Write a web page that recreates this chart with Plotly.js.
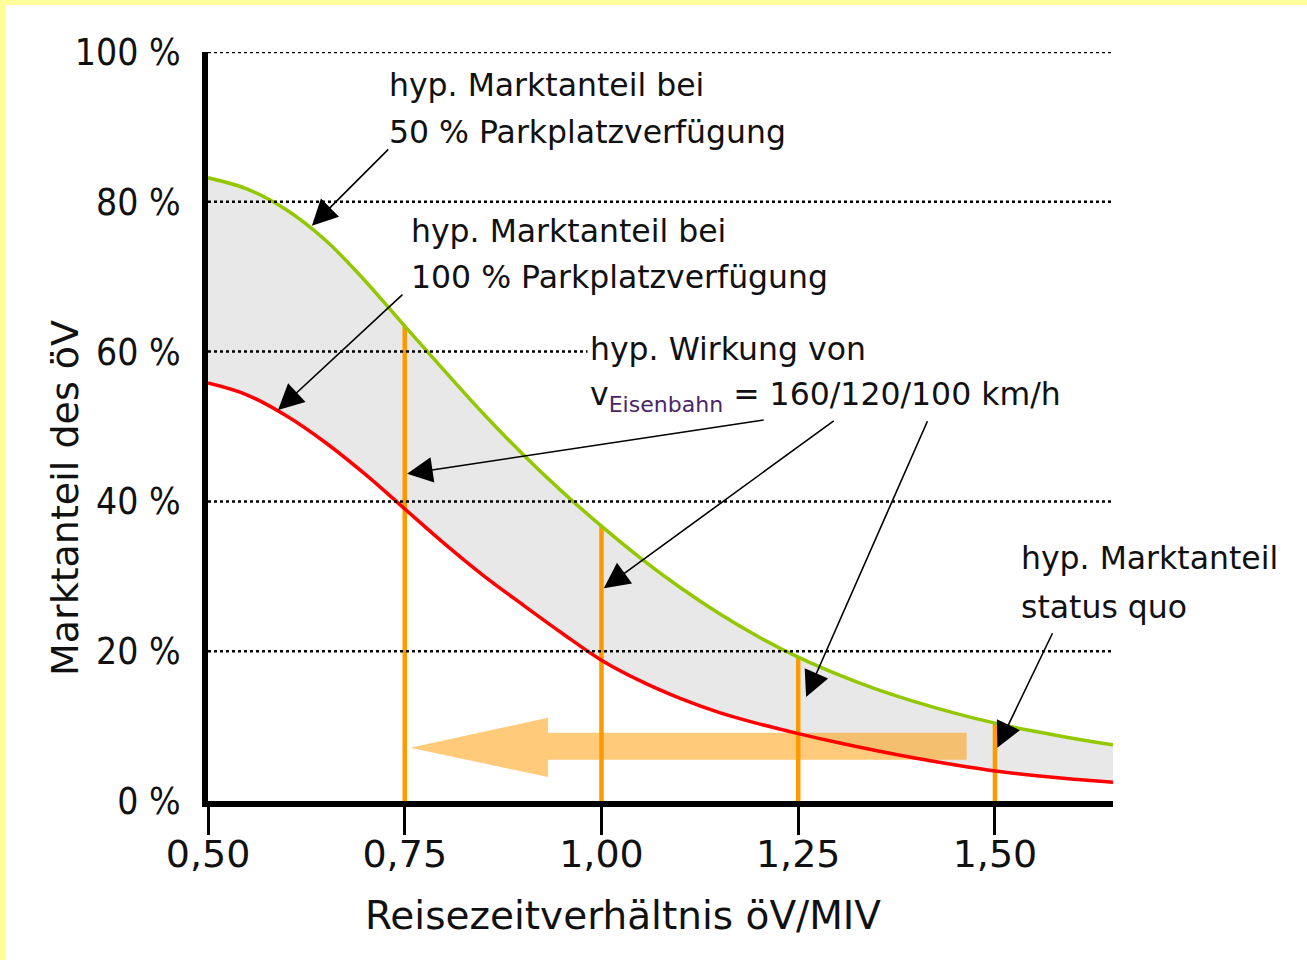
<!DOCTYPE html>
<html><head><meta charset="utf-8">
<script src="https://cdn.plot.ly/plotly-3.0.1.min.js"></script>
<style>
html,body{margin:0;padding:0;background:#FFFF99;width:1307px;height:960px;overflow:hidden}
#plot{position:absolute;left:6px;top:5px;width:1301px;height:955px;background:#fff}
</style></head><body><div id="plot"></div>
<script>
// Reisezeitverhältnis öV/MIV
const ratio     = [0.50,0.55,0.60,0.65,0.70,0.75,0.80,0.85,0.90,0.95,1.00,1.05,1.10,1.15,1.20,1.25,1.30,1.35,1.40,1.45,1.50,1.55,1.60,1.65];
// hyp. Marktanteil bei 50 % Parkplatzverfügung (green)
const share50   = [83.2,81.7,78.9,74.8,69.4,63.4,57.5,51.7,46.3,41.3,36.7,32.4,28.5,25.0,21.9,19.2,16.9,14.9,13.2,11.7,10.4,9.3,8.35,7.5];
// hyp. Marktanteil bei 100 % Parkplatzverfügung (red)
const share100  = [55.8,54.2,51.4,47.8,43.6,39.0,34.4,30.1,26.2,22.4,18.8,16.0,13.7,11.8,10.3,9.0,7.8,6.7,5.7,4.8,4.0,3.4,2.9,2.5];
// hyp. Wirkung von v = 160/120/100 km/h and status quo
const markerRatios = [0.75,1.00,1.25,1.50];
const xTickVals = [0.50,0.75,1.00,1.25,1.50];
const xTickText = ['0,50','0,75','1,00','1,25','1,50'];
const yTickVals = [0,20,40,60,80,100];
const yTickText = ['0 %','20 %','40 %','60 %','80 %','100 %'];
const gridVals  = [20,40,60,80,100];
// big translucent arrow outline
const bigArrowX = [0.757,0.932,0.932,1.464,1.464,0.932,0.932,0.757];
const bigArrowY = [7.1,11.1,9.1,9.1,5.5,5.5,3.2,7.1];

const orangeX = [], orangeY = [];
markerRatios.forEach(r => {
  const i = ratio.findIndex(v => Math.abs(v - r) < 1e-9);
  orangeX.push(r, r, null);
  orangeY.push(0, share50[i], null);
});

const GREEN = '#92C800', RED = '#FF0000', ORANGE = '#FF9900';
const annFont = {family:'DejaVu Sans, Verdana, sans-serif', size:31.5, color:'#111'};

const traces = [
  {x:ratio, y:share100, mode:'lines', line:{width:0, color:RED, shape:'spline'}, hoverinfo:'skip', showlegend:false},
  {x:ratio, y:share50, mode:'lines', line:{width:0, color:GREEN, shape:'spline'}, fill:'tonexty', fillcolor:'#E8E8E8', hoverinfo:'skip', showlegend:false},
  {x:orangeX, y:orangeY, mode:'lines', line:{width:4.5, color:ORANGE}, hoverinfo:'skip', showlegend:false},
  {x:bigArrowX, y:bigArrowY, mode:'lines', fill:'toself', fillcolor:'rgba(255,153,0,0.52)', line:{width:0}, hoverinfo:'skip', showlegend:false},
  {x:ratio, y:share100, mode:'lines', line:{width:3.5, color:RED, shape:'spline'}, hoverinfo:'skip', showlegend:false},
  {x:ratio, y:share50, mode:'lines', line:{width:3.5, color:GREEN, shape:'spline'}, hoverinfo:'skip', showlegend:false}
];

const shapes = gridVals.map(v => ({type:'line', xref:'paper', yref:'y', x0:0, x1:1, y0:v, y1:v,
  line:{color:'#000', width:2.5, dash:'3px,3px'}, layer:'above'}));

function txt(x, y, text, extra) {
  return Object.assign({x:x, y:y, xref:'x', yref:'y', text:text, showarrow:false,
    xanchor:'left', yanchor:'middle', align:'left', font:annFont}, extra || {});
}
function arr(x, y, ax, ay) {
  return {x:x, y:y, ax:ax, ay:ay, xref:'x', yref:'y', axref:'x', ayref:'y', text:'',
    showarrow:true, arrowhead:2, arrowsize:3.2, arrowwidth:1.6, arrowcolor:'#000', standoff:0, startstandoff:0};
}

const annotations = [
  txt(0.7275, 95.6, 'hyp. Marktanteil bei'),
  txt(0.7275, 89.3, '50 % Parkplatzverfügung'),
  txt(0.7555, 76.1, 'hyp. Marktanteil bei'),
  txt(0.7555, 70.0, '100 % Parkplatzverfügung'),
  txt(0.9810, 60.35, 'hyp. Wirkung von', {bgcolor:'#fff', width:522, borderpad:2}),
  txt(0.9830, 54.0, 'v<sub><span style="color:#4a2566">Eisenbahn</span></sub> = 160/120/100 km/h'),
  txt(1.5305, 32.4, 'hyp. Marktanteil'),
  txt(1.5305, 25.9, 'status quo'),
  arr(0.632, 76.8, 0.731, 87.2),
  arr(0.589, 52.2, 0.749, 67.8),
  arr(0.753, 43.7, 1.208, 50.9),
  arr(1.003, 28.4, 1.297, 50.9),
  arr(1.260, 13.9, 1.415, 50.9),
  arr(1.503, 7.1, 1.574, 22.6),
  {xref:'paper', yref:'paper', x:0.4586, y:-0.1535, text:'Reisezeitverhältnis öV/MIV', showarrow:false,
    xanchor:'center', yanchor:'middle', font:{family:'DejaVu Sans, sans-serif', size:39, color:'#111'}},
  {xref:'paper', yref:'paper', x:-0.158, y:0.4045, text:'Marktanteil des öV', showarrow:false, textangle:-90,
    xanchor:'center', yanchor:'middle', font:{family:'DejaVu Sans, sans-serif', size:38, color:'#111'}}
];

const layout = {
  width:1301, height:955,
  margin:{l:202, r:194, t:47, b:159},
  paper_bgcolor:'#fff', plot_bgcolor:'rgba(0,0,0,0)',
  showlegend:false,
  xaxis:{range:[0.5,1.65], showgrid:false, zeroline:false, showline:true, linewidth:6, linecolor:'#000',
    tickvals:xTickVals, ticktext:xTickText, ticks:'outside', ticklen:28, tickwidth:3, tickcolor:'#000',
    ticklabelstandoff:-14,
    tickfont:{family:'DejaVu Sans, sans-serif', size:38, color:'#111'}, layer:'above traces', fixedrange:true},
  yaxis:{range:[0,100], showgrid:false, zeroline:false, showline:true, linewidth:6, linecolor:'#000',
    tickvals:yTickVals, ticktext:yTickText, ticks:'', ticklabelstandoff:14,
    tickfont:{family:'DejaVu Sans Condensed, sans-serif', size:37, color:'#111'}, layer:'above traces', fixedrange:true},
  shapes:shapes,
  annotations:annotations
};

Plotly.newPlot('plot', traces, layout, {displayModeBar:false, staticPlot:true});
</script></body></html>
